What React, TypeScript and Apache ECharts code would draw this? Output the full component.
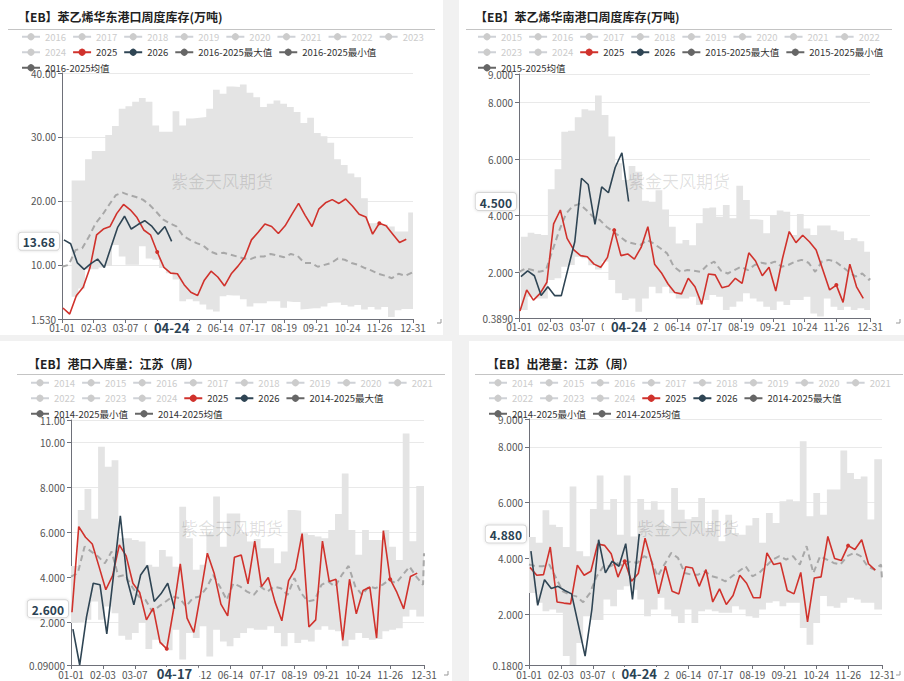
import React, { useEffect, useRef } from "react";
import * as echarts from "echarts";

const FONT = '"Noto Sans CJK SC", "Noto Sans", sans-serif';
const RED = "#d0322c";
const NAVY = "#2f4554";
const BAND = "#e4e4e4";

// One category per calendar day (leap-year calendar, 01-01 … 12-31)
const DAY_LABELS: string[] = [];
{
  const d = new Date(Date.UTC(2024, 0, 1));
  for (let i = 0; i < 366; i++) {
    const m = String(d.getUTCMonth() + 1).padStart(2, "0");
    const dd = String(d.getUTCDate()).padStart(2, "0");
    DAY_LABELS.push(`${m}-${dd}`);
    d.setUTCDate(d.getUTCDate() + 1);
  }
}
// Days that carry an x-axis tick label
const LABEL_DAYS = [0, 33, 66, 99, 132, 165, 198, 231, 264, 297, 330, 365];

// ---------- 华东港口库存 ----------
const EAST_2025 = [3.25, 2.3, 5.2, 6.5, 9.5, 14.7, 15.6, 16.0, 18.05, 19.45, 18.6, 17.4, 15.45, 14.7, 12.0, 9.6, 8.7, 8.6, 6.9, 5.7, 5.2, 7.6, 9.0, 8.1, 6.7, 8.6, 9.8, 11.2, 13.9, 15.1, 16.4, 16.0, 14.9, 16.1, 17.9, 19.6, 17.7, 16.0, 18.7, 19.7, 20.2, 19.6, 20.3, 19.2, 17.9, 17.5, 14.8, 16.5, 16.1, 14.8, 13.5, 14.0];
const EAST_2026 = [13.9, 13.3, 10.3, 9.3, 10.2, 10.9, 9.6, 12.8, 15.9, 17.6, 15.6, 16.3, 16.9, 16.1, 14.8, 16.0, 13.68];
const EAST_MAX = [23.2, 23.2, 26.5, 27.8, 27.8, 30.3, 31.7, 34.4, 34.8, 35.5, 36.1, 35.5, 31.8, 30.8, 30.8, 34.0, 31.8, 32.9, 33.0, 33.1, 34.4, 37.4, 36.75, 37.9, 37.8, 38.2, 36.9, 36.2, 34.7, 35.2, 35.7, 35.2, 34.7, 33.9, 32.2, 33.0, 30.6, 30.1, 29.1, 26.5, 25.6, 24.3, 23.7, 20.4, 16.5, 16.6, 16.3, 16.0, 15.2, 15.2, 18.2];
const EAST_MIN = [5.0, 6.3, 9.3, 9.3, 9.6, 9.8, 13.1, 11.3, 10.0, 10.0, 12.9, 11.0, 10.8, 9.5, 8.7, 7.7, 4.3, 4.6, 4.3, 3.8, 3.0, 2.7, 5.1, 5.3, 5.2, 4.6, 3.5, 4.0, 4.0, 4.3, 4.3, 3.3, 4.3, 4.2, 3.0, 3.1, 3.2, 3.5, 4.0, 4.1, 3.7, 3.5, 3.7, 3.0, 3.4, 3.0, 3.4, 1.85, 2.9, 3.1, 3.1];
const EAST_MEAN = [9.7, 10.0, 12.3, 12.6, 14.4, 16.5, 17.8, 19.4, 20.9, 21.3, 20.9, 20.6, 20.2, 19.4, 18.3, 17.1, 16.5, 16.0, 14.5, 13.9, 13.4, 13.0, 12.1, 11.7, 11.9, 11.6, 11.3, 11.0, 10.9, 11.3, 11.3, 11.7, 11.45, 11.2, 11.7, 11.4, 10.3, 10.3, 9.7, 10.0, 10.3, 11.0, 10.8, 10.3, 10.0, 9.5, 9.1, 8.6, 8.3, 7.9, 8.6, 8.3, 8.8];

// ---------- 华南港口库存 ----------
const SOUTH_2025 = [0.635, 1.38, 1.02, 1.26, 1.65, 3.71, 4.2, 3.2, 2.79, 2.59, 2.55, 2.29, 2.18, 2.53, 3.49, 2.59, 2.65, 2.47, 2.88, 3.61, 2.29, 1.99, 1.59, 1.29, 1.24, 1.79, 1.49, 0.88, 1.94, 1.91, 1.46, 1.52, 1.79, 1.61, 2.69, 2.4, 1.88, 2.18, 1.34, 2.49, 3.44, 3.05, 3.31, 3.08, 2.79, 2.08, 1.38, 1.55, 0.94, 2.29, 1.49, 1.08];
const SOUTH_2026 = [1.85, 2.05, 1.88, 1.18, 1.49, 1.18, 1.18, 2.13, 3.08, 5.32, 5.1, 3.69, 5.02, 4.81, 5.7, 6.22, 4.5];
const SOUTH_MAX = [3.26, 3.4, 3.35, 3.32, 4.93, 5.64, 6.96, 7.0, 7.47, 7.76, 7.71, 8.24, 7.55, 6.79, 5.85, 5.26, 5.75, 5.55, 4.53, 4.49, 4.9, 4.22, 3.61, 3.02, 3.14, 2.96, 3.73, 4.26, 4.29, 3.96, 4.38, 3.91, 5.06, 4.55, 3.87, 3.85, 3.38, 4.02, 4.18, 4.14, 3.32, 4.06, 3.55, 3.32, 3.65, 3.65, 3.49, 3.44, 3.14, 3.2, 3.1, 2.73];
const SOUTH_MIN = [0.67, 1.14, 1.08, 1.08, 1.73, 1.79, 2.2, 2.26, 2.55, 2.5, 2.25, 2.1, 2.38, 1.73, 1.26, 1.02, 1.08, 0.61, 1.08, 1.49, 1.26, 1.49, 1.26, 1.08, 1.08, 1.14, 0.85, 1.02, 1.2, 1.14, 0.67, 0.79, 0.97, 1.26, 1.08, 0.97, 0.79, 0.67, 0.97, 0.85, 1.02, 1.02, 1.14, 0.55, 0.44, 1.08, 0.79, 0.67, 0.79, 0.67, 0.73, 0.67];
const SOUTH_MEAN = [2.02, 2.14, 2.08, 2.02, 2.08, 2.79, 3.49, 4.08, 4.34, 4.41, 4.2, 3.96, 3.85, 3.61, 3.44, 3.26, 3.08, 3.02, 2.96, 3.14, 3.02, 2.85, 2.67, 2.2, 2.02, 2.08, 2.06, 2.02, 2.26, 2.38, 2.06, 1.96, 2.08, 2.2, 2.08, 2.26, 2.34, 2.29, 2.38, 2.2, 2.26, 2.38, 2.44, 2.34, 2.02, 2.38, 2.44, 2.38, 2.2, 2.02, 1.85, 1.96, 1.73, 1.79];

// ---------- 江苏港口入库量 ----------
const INFLOW_2025 = [2.44, 6.25, 5.78, 5.48, 4.47, 3.44, 4.07, 5.44, 4.95, 3.73, 3.32, 2.1, 2.62, 1.11, 0.81, 2.55, 4.59, 2.18, 1.54, 3.26, 5.07, 4.18, 2.8, 2.28, 4.89, 4.99, 3.7, 5.61, 3.58, 3.99, 2.89, 2.06, 3.85, 4.36, 5.94, 1.78, 2.1, 5.61, 3.81, 3.91, 1.19, 3.91, 2.37, 3.41, 3.56, 1.29, 6.07, 3.91, 3.32, 2.59, 4.03, 4.18];
const INFLOW_2026 = [1.69, 0.09, 2.22, 3.73, 3.66, 1.48, 4.1, 6.73, 3.91, 2.77, 4.1, 4.52, 2.92, 3.26, 3.73, 2.6];
const INFLOW_MAX = [4.5, 6.99, 7.93, 6.6, 9.81, 8.92, 9.21, 5.73, 5.73, 5.66, 5.59, 4.55, 4.47, 5.21, 4.92, 4.47, 7.14, 5.73, 4.33, 4.55, 5.96, 7.59, 5.36, 6.84, 6.84, 5.96, 5.59, 5.7, 5.29, 5.29, 4.62, 5.14, 6.99, 6.96, 5.96, 5.88, 5.81, 5.73, 6.1, 6.81, 8.62, 6.1, 5.0, 6.1, 5.66, 5.66, 6.1, 5.36, 4.77, 10.4, 5.6, 8.06];
const INFLOW_MIN = [1.96, 2.0, 2.1, 2.92, 2.1, 2.7, 2.4, 1.39, 1.21, 1.51, 1.96, 0.8, 1.21, 1.0, 0.75, 1.66, 0.33, 1.51, 1.29, 1.81, 0.47, 1.66, 1.14, 0.92, 1.29, 1.51, 1.73, 1.66, 1.66, 1.81, 1.51, 0.92, 1.51, 1.07, 1.21, 1.14, 1.66, 1.81, 1.66, 1.59, 0.92, 1.21, 1.51, 1.29, 1.21, 1.25, 1.59, 1.66, 1.73, 2.25, 2.55, 2.25];
const INFLOW_MEAN = [4.03, 4.18, 5.36, 5.14, 4.92, 4.62, 5.14, 4.03, 4.1, 3.58, 3.14, 2.99, 2.47, 2.7, 2.92, 3.14, 3.07, 2.7, 3.07, 3.14, 3.51, 4.1, 3.58, 2.99, 3.73, 3.58, 3.36, 3.21, 3.58, 3.36, 3.58, 3.51, 3.21, 3.96, 3.29, 2.92, 2.99, 3.66, 3.81, 3.58, 4.1, 4.5, 3.58, 3.21, 3.58, 3.51, 3.66, 3.88, 3.73, 4.1, 4.47, 4.03, 3.66, 5.07];

// ---------- 江苏出港量 ----------
const OUTFLOW_2025 = [3.68, 3.4, 3.42, 4.41, 2.44, 2.4, 2.37, 3.76, 3.4, 3.54, 4.52, 4.47, 4.17, 3.33, 3.9, 3.18, 3.46, 4.73, 3.86, 2.73, 3.72, 2.82, 2.73, 3.7, 3.66, 3.0, 3.6, 2.44, 2.91, 2.35, 2.67, 3.4, 3.11, 2.59, 2.59, 4.2, 3.78, 3.84, 2.85, 2.73, 3.5, 1.73, 3.3, 3.34, 4.79, 4.0, 3.93, 4.46, 4.32, 4.67, 3.81, 3.58];
const OUTFLOW_2026 = [4.26, 2.32, 3.24, 2.92, 3.0, 2.85, 2.73, 1.63, 0.5, 2.17, 4.67, 3.48, 3.9, 3.72, 4.53, 2.53, 4.88];
const OUTFLOW_MAX = [4.77, 4.56, 5.73, 5.21, 5.13, 4.41, 6.58, 4.26, 4.08, 5.77, 6.97, 5.75, 6.13, 4.85, 6.97, 4.79, 6.13, 5.75, 6.05, 5.75, 5.15, 6.53, 5.75, 5.41, 5.49, 6.17, 5.09, 5.75, 4.62, 5.57, 4.91, 4.85, 5.18, 5.45, 4.56, 5.63, 5.27, 6.05, 6.11, 6.05, 8.2, 5.51, 6.35, 5.57, 6.47, 6.47, 7.87, 7.06, 6.85, 6.94, 5.4, 7.56];
const OUTFLOW_MIN = [2.76, 2.41, 2.11, 2.17, 2.05, 0.5, 0.18, 0.97, 1.93, 1.79, 1.79, 2.53, 2.29, 2.88, 3.0, 2.88, 2.53, 1.93, 2.17, 2.59, 2.17, 1.93, 1.69, 2.17, 1.69, 2.11, 2.17, 2.11, 2.05, 2.05, 2.29, 2.17, 1.93, 1.87, 2.17, 2.41, 2.47, 2.29, 2.41, 2.41, 1.51, 0.91, 1.69, 2.65, 2.29, 2.23, 2.41, 2.59, 2.53, 2.41, 2.41, 2.17];
const OUTFLOW_MEAN = [3.78, 3.72, 3.72, 3.78, 3.3, 2.82, 2.7, 2.64, 2.43, 2.76, 3.36, 3.72, 3.72, 3.84, 3.72, 3.9, 3.84, 4.08, 3.96, 3.36, 3.78, 4.2, 4.02, 3.48, 3.42, 3.42, 3.54, 3.36, 3.3, 3.18, 3.36, 3.54, 3.72, 3.36, 3.48, 3.72, 3.96, 4.08, 3.96, 4.08, 3.78, 4.44, 3.48, 4.08, 3.96, 3.84, 3.78, 4.08, 4.2, 4.08, 3.72, 3.6, 3.78, 3.24];

const YEARS_2016 = ["2016", "2017", "2018", "2019", "2020", "2021", "2022", "2023", "2024"];
const YEARS_2015 = ["2015", ...YEARS_2016];
const YEARS_2014 = ["2014", ...YEARS_2015];

type PanelSpec = {
  key: string;
  left: number; top: number; width: number; height: number;
  title: string; titleX: number; titleY: number;
  ruleY: number; ruleX1: number; ruleX2: number;
  legendLeft: number; legendTop: number; legendWidth: number;
  grid: { left: number; right: number; top: number; bottom: number };
  labelMargin: number;
  yMin: number; yMax: number;
  years: string[]; range: string;
  bandStart: number;
  max: number[]; min: number[]; mean: number[];
  cur: number[]; next: number[];
  pointerDay: number; pointerValue: number;
  mark: [number, number];
  watermark: [number, number];
};

const PANELS: PanelSpec[] = [
  {
    key: "east", left: 0, top: 0, width: 443, height: 335,
    title: "【EB】苯乙烯华东港口周度库存(万吨)", titleX: 18, titleY: 16,
    ruleY: 29.5, ruleX1: 8, ruleX2: 435,
    legendLeft: 21, legendTop: 32, legendWidth: 420,
    grid: { left: 62, right: 30, top: 73, bottom: 16 }, labelMargin: 3,
    yMin: 1.53, yMax: 40, years: YEARS_2016, range: "2016-2025", bandStart: 10,
    max: EAST_MAX, min: EAST_MIN, mean: EAST_MEAN, cur: EAST_2025, next: EAST_2026,
    pointerDay: 114, pointerValue: 13.68, mark: [441, 323], watermark: [222, 180],
  },
  {
    key: "south", left: 459, top: 0, width: 445, height: 335,
    title: "【EB】苯乙烯华南港口周度库存(万吨)", titleX: 16, titleY: 16,
    ruleY: 29.5, ruleX1: 7, ruleX2: 433,
    legendLeft: 18, legendTop: 32, legendWidth: 425,
    grid: { left: 60, right: 34, top: 74, bottom: 17 }, labelMargin: 3,
    yMin: 0.389, yMax: 9, years: YEARS_2015, range: "2015-2025", bandStart: 2,
    max: SOUTH_MAX, min: SOUTH_MIN, mean: SOUTH_MEAN, cur: SOUTH_2025, next: SOUTH_2026,
    pointerDay: 114, pointerValue: 4.5, mark: [441, 323], watermark: [220, 180],
  },
  {
    key: "inflow", left: 0, top: 341, width: 452, height: 340,
    title: "【EB】港口入库量：江苏（周）", titleX: 28, titleY: 22,
    ruleY: 33.5, ruleX1: 17, ruleX2: 445,
    legendLeft: 30, legendTop: 37, legendWidth: 420,
    grid: { left: 71, right: 28, top: 79, bottom: 16 }, labelMargin: 4,
    yMin: 0.09, yMax: 11, years: YEARS_2014, range: "2014-2025", bandStart: 0,
    max: INFLOW_MAX, min: INFLOW_MIN, mean: INFLOW_MEAN, cur: INFLOW_2025, next: INFLOW_2026,
    pointerDay: 107, pointerValue: 2.6, mark: [448, 334], watermark: [232, 186],
  },
  {
    key: "outflow", left: 469, top: 341, width: 435, height: 340,
    title: "【EB】出港量：江苏（周）", titleX: 18, titleY: 22,
    ruleY: 33.5, ruleX1: 6, ruleX2: 434,
    legendLeft: 19, legendTop: 37, legendWidth: 414,
    grid: { left: 60, right: 22, top: 78, bottom: 16 }, labelMargin: 4,
    yMin: 0.18, yMax: 9, years: YEARS_2014, range: "2014-2025", bandStart: 0,
    max: OUTFLOW_MAX, min: OUTFLOW_MIN, mean: OUTFLOW_MEAN, cur: OUTFLOW_2025, next: OUTFLOW_2026,
    pointerDay: 114, pointerValue: 4.88, mark: [431, 334], watermark: [219, 186],
  },
];

const fmt4 = (v: number) => Number(v).toPrecision(4);
const showLabel = (i: number) => LABEL_DAYS.includes(i);

function buildOption(p: PanelSpec) {
  const bandDays = p.max.map((_, i) => p.bandStart + 7 * i);
  const closeBand = (vals: number[]) => [
    ...vals.map((v, i) => [bandDays[i], v]),
    [365, vals[vals.length - 1]],
  ];
  const spread = p.max.map((v, i) => +(v - p.min[i]).toFixed(3));
  const meanData = p.mean.map((v, i) => [Math.min(7 * i, 365), v]);
  const curData = p.cur.map((v, i) => [1 + 7 * i, v]);
  const nextData = p.next.map((v, i) => [2 + 7 * i, v]);

  const maxName = `${p.range}最大值`;
  const minName = `${p.range}最小值`;
  const meanName = `${p.range}均值`;
  const greyIcon = {
    itemStyle: { color: "#666", opacity: 1 },
    lineStyle: { color: "#666", opacity: 1, width: 2, type: "solid" },
  };

  const selected: Record<string, boolean> = {};
  p.years.forEach((y) => (selected[y] = false));

  return {
    animation: false,
    textStyle: { fontFamily: FONT },
    grid: p.grid,
    legend: {
      left: p.legendLeft,
      top: p.legendTop,
      width: p.legendWidth,
      padding: 0,
      itemWidth: 18,
      itemHeight: 9,
      itemGap: 6,
      inactiveColor: "#ccc",
      textStyle: { fontSize: 9.5, color: "#333", fontFamily: FONT },
      selected,
      data: [
        ...p.years.map((y) => ({ name: y })),
        { name: "2025" },
        { name: "2026" },
        { name: maxName, ...greyIcon },
        { name: minName, ...greyIcon },
        { name: meanName, ...greyIcon },
      ],
    },
    xAxis: {
      type: "category",
      data: DAY_LABELS,
      boundaryGap: false,
      axisLine: { lineStyle: { color: "#6E7079" } },
      axisTick: { interval: showLabel, length: 4, lineStyle: { color: "#6E7079" } },
      axisLabel: { interval: showLabel, fontSize: 10, color: "#555", margin: p.labelMargin, fontFamily: FONT },
      splitLine: { show: false },
      axisPointer: {
        show: true,
        type: "line",
        status: "show",
        value: p.pointerDay,
        triggerTooltip: false,
        lineStyle: { opacity: 0 },
        label: {
          show: true,
          fontSize: 13,
          fontWeight: "bold",
          color: "#2b4253",
          backgroundColor: "#fff",
          padding: [0, 7, 0, 7],
          margin: 2,
          fontFamily: FONT,
        },
      },
    },
    yAxis: {
      type: "value",
      min: p.yMin,
      max: p.yMax,
      axisLine: { show: true, lineStyle: { color: "#6E7079" } },
      axisTick: { show: true, length: 4 },
      axisLabel: { formatter: fmt4, fontSize: 10, color: "#555", margin: 6, fontFamily: FONT },
      splitLine: { lineStyle: { color: "#e9e9e9" } },
      axisPointer: {
        show: true,
        type: "line",
        status: "show",
        value: p.pointerValue,
        triggerTooltip: false,
        lineStyle: { opacity: 0 },
        label: {
          show: true,
          formatter: (o: any) => fmt4(o.value),
          fontSize: 12,
          fontWeight: "bold",
          color: "#2b4253",
          backgroundColor: "#fff",
          borderColor: "#d6d6d6",
          borderWidth: 1,
          borderRadius: 3,
          padding: [3, 4, 2, 4],
          shadowBlur: 3,
          shadowColor: "rgba(0,0,0,0.15)",
          fontFamily: FONT,
        },
      },
    },
    graphic: [
      {
        type: "text",
        x: p.titleX,
        y: p.titleY,
        silent: true,
        style: { text: p.title, font: `bold 12px ${FONT}`, fill: "#222", verticalAlign: "middle" },
      },
      {
        type: "line",
        silent: true,
        shape: { x1: p.ruleX1, y1: p.ruleY, x2: p.ruleX2, y2: p.ruleY },
        style: { stroke: "#c4c4c4", lineWidth: 1 },
      },
      {
        type: "text",
        x: p.watermark[0],
        y: p.watermark[1],
        z: 10,
        silent: true,
        style: {
          text: "紫金天风期货",
          font: `17px ${FONT}`,
          fill: "rgba(0,0,0,0.12)",
          align: "center",
          verticalAlign: "middle",
        },
      },
      {
        type: "polyline",
        silent: true,
        shape: { points: [[p.mark[0], p.mark[1] - 4], [p.mark[0], p.mark[1]], [p.mark[0] - 4, p.mark[1]]] },
        style: { stroke: "#999", lineWidth: 1, fill: "none" },
      },
    ],
    series: [
      ...p.years.map((y) => ({
        name: y,
        type: "line",
        data: [],
        symbol: "circle",
        itemStyle: { color: "#ccc" },
        lineStyle: { color: "#ccc", width: 2 },
      })),
      {
        name: minName,
        type: "line",
        stack: "band",
        step: "end",
        data: closeBand(p.min),
        symbol: "circle",
        showSymbol: false,
        itemStyle: { color: "#666" },
        lineStyle: { opacity: 0 },
        z: 1,
      },
      {
        name: maxName,
        type: "line",
        stack: "band",
        step: "end",
        data: closeBand(spread),
        symbol: "circle",
        showSymbol: false,
        itemStyle: { color: "#666" },
        lineStyle: { opacity: 0 },
        areaStyle: { color: BAND, opacity: 1 },
        z: 1,
      },
      {
        name: meanName,
        type: "line",
        data: meanData,
        symbol: "circle",
        showSymbol: false,
        itemStyle: { color: "#666" },
        lineStyle: { color: "#a8a8a8", width: 2, type: [6, 4] },
        z: 2,
      },
      {
        name: "2025",
        type: "line",
        data: curData,
        symbol: "circle",
        symbolSize: 4,
        itemStyle: { color: RED },
        lineStyle: { color: RED, width: 1.6 },
        z: 3,
      },
      {
        name: "2026",
        type: "line",
        data: nextData,
        symbol: "circle",
        symbolSize: 4,
        itemStyle: { color: NAVY },
        lineStyle: { color: NAVY, width: 1.6 },
        z: 4,
      },
    ],
  };
}

function Panel({ spec }: { spec: PanelSpec }) {
  const ref = useRef<HTMLDivElement>(null);
  useEffect(() => {
    if (!ref.current) return;
    const chart = echarts.init(ref.current, undefined, { renderer: "svg" });
    chart.setOption(buildOption(spec) as any);
    return () => chart.dispose();
  }, [spec]);
  return (
    <div
      ref={ref}
      style={{
        position: "absolute",
        left: spec.left,
        top: spec.top,
        width: spec.width,
        height: spec.height,
        background: "#fff",
      }}
    />
  );
}

export default function App() {
  return (
    <div
      style={{
        position: "fixed",
        left: 0,
        top: 0,
        width: 904,
        height: 681,
        background: "#f1f1f1",
        overflow: "hidden",
      }}
    >
      {PANELS.map((p) => (
        <Panel key={p.key} spec={p} />
      ))}
    </div>
  );
}
